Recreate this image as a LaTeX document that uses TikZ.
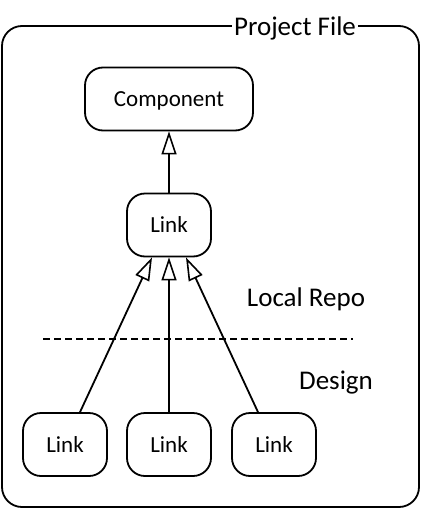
\documentclass[tikz,border=0pt]{standalone}
\usepackage{fontspec}
\setmainfont{Carlito}
\usetikzlibrary{arrows.meta}
\tikzset{
  box/.style={draw, line width=1.8pt, rounded corners=18pt, minimum height=63pt, inner sep=0pt,
    font=\fontsize{23pt}{26pt}\selectfont, text height=15pt, text depth=0pt},
  inherit/.style={line width=1.8pt, -{Triangle[open, length=23pt, width=15pt, line width=1.6pt]}},
  bigtext/.style={font=\fontsize{27pt}{30pt}\selectfont, inner sep=0pt}
}
\begin{document}
\begin{tikzpicture}[x=1pt,y=-1pt]
\useasboundingbox (0,0) rectangle (422,509);
\draw[line width=1.8pt, rounded corners=20pt] (2,26) rectangle (419,507);
\node[bigtext, fill=white, inner xsep=2pt, inner ysep=1pt, anchor=base] (pf) at (295,35) {Project File};
\node[box, minimum width=168pt] (comp) at (169,99) {Component};
\node[box, minimum width=84pt] (mid) at (169,225) {Link};
\node[box, minimum width=84pt] (l1) at (65,444.5) {Link};
\node[box, minimum width=84pt] (l2) at (169,444.5) {Link};
\node[box, minimum width=84pt] (l3) at (274,444.5) {Link};
\node[bigtext, anchor=base] (lr) at (306,306) {Local Repo};
\node[bigtext, anchor=base] (ds) at (336,389) {Design};
\coordinate (dl) at (43,339);
\coordinate (dr) at (353,339);
\draw[line width=1.6pt, dash pattern=on 7pt off 4pt] (dl) -- (dr);
\draw[inherit] (mid.north) -- (comp.south);
\draw[inherit] ([xshift=15pt]l1.north) -- ([xshift=-17pt]mid.south);
\draw[inherit] (l2.north) -- (mid.south);
\draw[inherit] ([xshift=-16pt]l3.north) -- ([xshift=17pt]mid.south);
\end{tikzpicture}
\end{document}
